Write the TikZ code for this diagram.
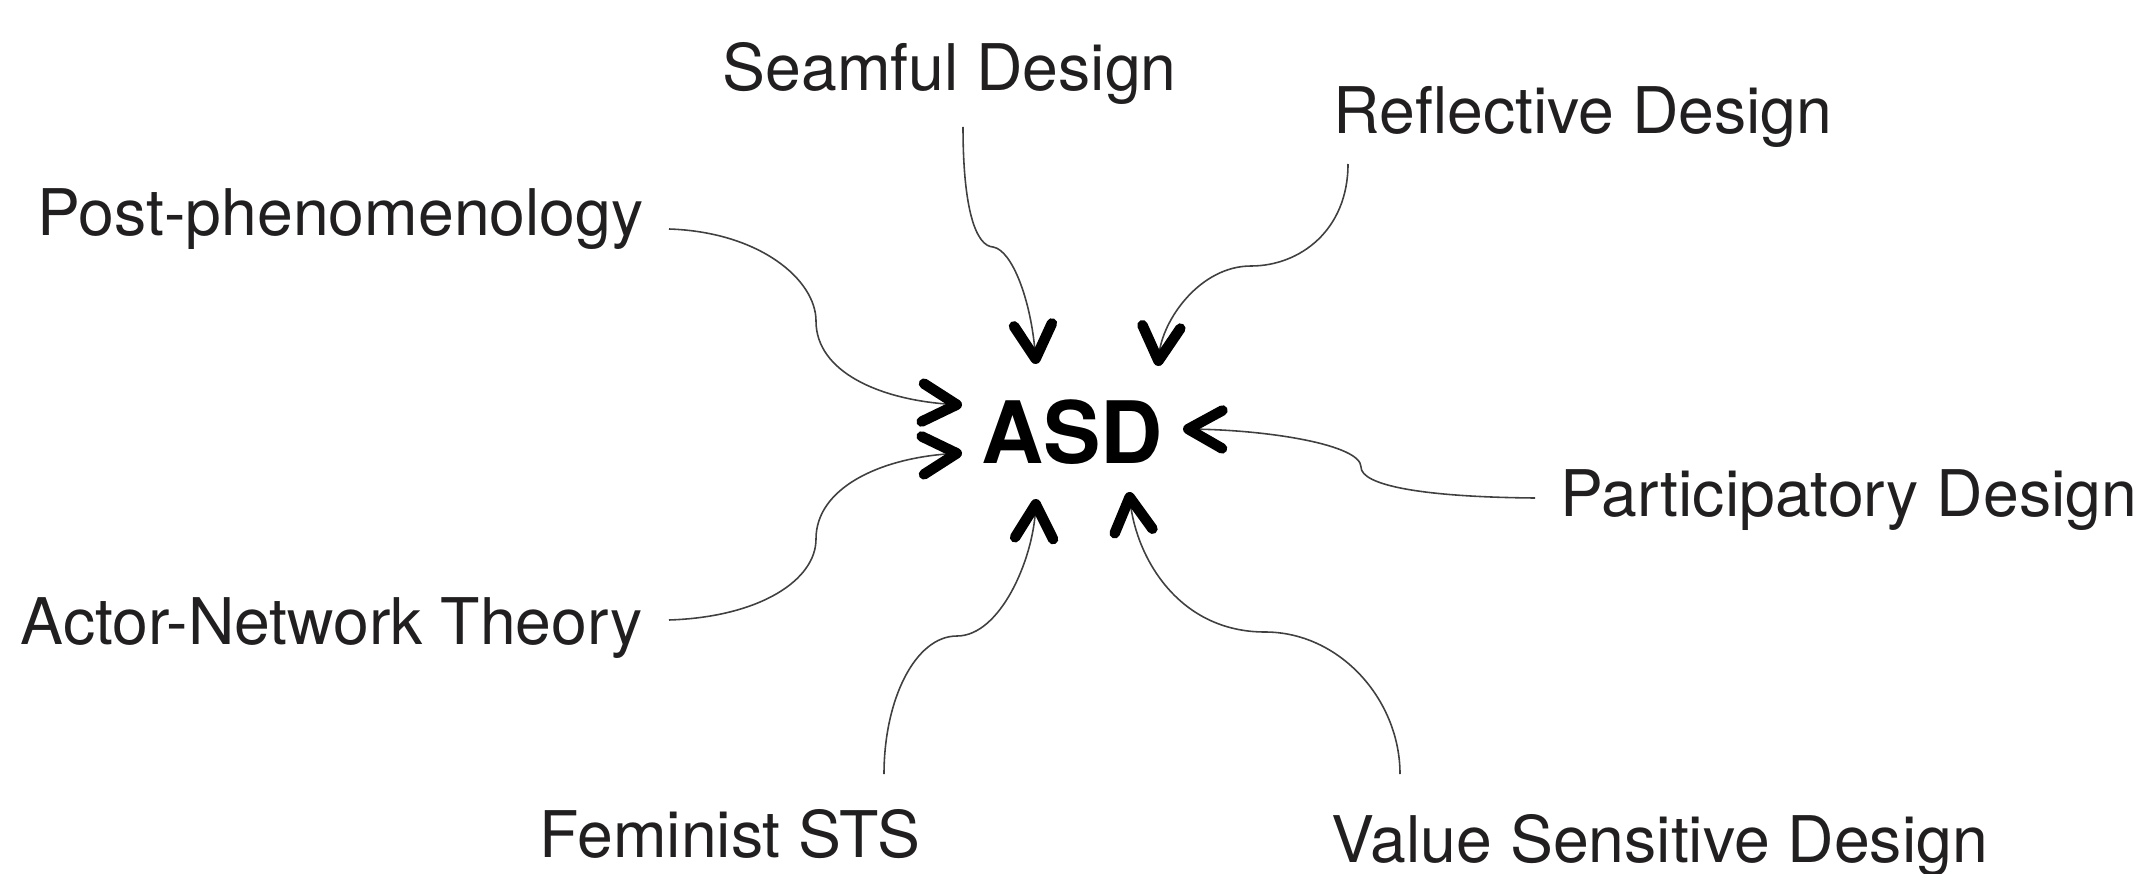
\documentclass[tikz,border=0pt]{standalone}
\usepackage{fontspec}
\setmainfont{TeX Gyre Heros}
\usetikzlibrary{arrows.meta}
\definecolor{txt}{rgb}{0.13,0.12,0.12}
\definecolor{wire}{rgb}{0.25,0.25,0.25}
\tikzset{
  lbl/.style={inner sep=0pt, anchor=base west, text=txt, font=\fontsize{18.3}{22}\selectfont},
  hub/.style={inner sep=0pt, anchor=base, text=black, font=\fontsize{24.5}{28}\selectfont\bfseries},
  conn/.style={draw=wire, line width=0.45pt,
    -{Straight Barb[length=3.4mm,width=3.8mm,line width'=1.05mm,round,color=black]}}
}
\begin{document}
\begin{tikzpicture}[x=0.1mm,y=-0.1mm]
\useasboundingbox (0,0) rectangle (2140,874);
% labels
\node[lbl] (seam) at (722,91) {Seamful Design};
\node[lbl] (refl) at (1333,134) {Reflective Design};
\node[lbl] (post) at (37,235) {Post-phenomenology};
\node[lbl] (part) at (1560,516) {Participatory Design};
\node[lbl] (ant)  at (20,644) {Actor-Network Theory};
\node[lbl] (fem)  at (539,857) {Feminist STS};
\node[lbl] (vsd)  at (1331,862) {Value Sensitive Design};
\node[hub] (asd)  at (1072,463) {ASD};
% connector start points
\coordinate (s1) at (963,127);
\coordinate (s2) at (1348,164);
\coordinate (s3) at (669,229);
\coordinate (s4) at (1535,498);
\coordinate (s5) at (669,620);
\coordinate (s6) at (884,774);
\coordinate (s7) at (1400,774);
% chevron tips around ASD
\coordinate (t1) at (1036,364);
\coordinate (t2) at (1158,366);
\coordinate (t3) at (962,405);
\coordinate (t4) at (1183,429);
\coordinate (t5) at (962,453);
\coordinate (t6) at (1036,499);
\coordinate (t7) at (1129,492);
% connectors
\draw[conn] (s1) .. controls (963,210) and (976,246) .. (993,247)
                 .. controls (1012,250) and (1031,300) .. (t1);
\draw[conn] (s2) .. controls (1348,230) and (1300,266) .. (1251,266)
                 .. controls (1200,266) and (1162,320) .. (t2);
\draw[conn] (s3) .. controls (760,232) and (816,280) .. (816,321)
                 .. controls (816,372) and (880,400) .. (t3);
\draw[conn] (s4) .. controls (1420,497) and (1361,485) .. (1361,467)
                 .. controls (1361,445) and (1270,430) .. (t4);
\draw[conn] (s5) .. controls (760,617) and (816,580) .. (816,539)
                 .. controls (816,488) and (880,458) .. (t5);
\draw[conn] (s6) .. controls (884,700) and (915,636) .. (957,636)
                 .. controls (1000,636) and (1033,560) .. (t6);
\draw[conn] (s7) .. controls (1400,700) and (1340,632) .. (1265,632)
                 .. controls (1180,632) and (1137,560) .. (t7);
\end{tikzpicture}
\end{document}
